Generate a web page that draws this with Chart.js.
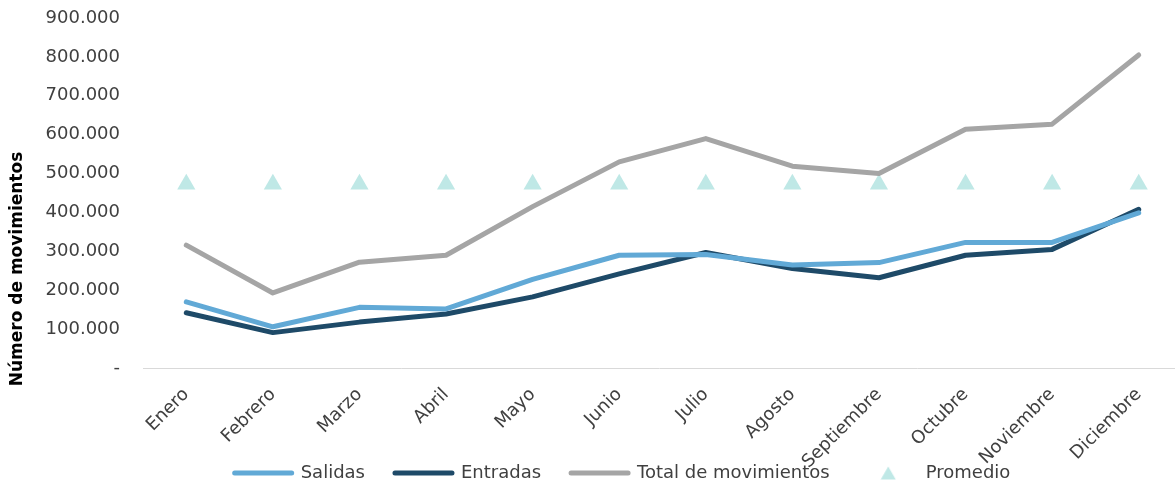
<!DOCTYPE html>
<html>
<head>
<meta charset="utf-8">
<script src="https://cdn.jsdelivr.net/npm/chart.js@4.4.1/dist/chart.umd.min.js"></script>
<style>
  html, body { margin: 0; padding: 0; background: #ffffff; }
  #wrap { width: 1175px; height: 491px; position: relative; }
</style>
</head>
<body>
<div id="wrap"><canvas id="c" width="1175" height="491"></canvas></div>
<script>
const months = ['Enero','Febrero','Marzo','Abril','Mayo','Junio','Julio','Agosto','Septiembre','Octubre','Noviembre','Diciembre'];
const salidas = [170000,106000,156000,152000,228000,290000,292000,265000,271000,323000,323000,399000];
const entradas = [142000,91000,118000,139000,183000,242000,297000,256000,232000,290000,305000,408000];
const totalMov = [316000,193000,272000,290000,415000,530000,590000,519000,500000,614000,627000,805000];
const promedio = [472600,472600,472600,472600,472600,472600,472600,472600,472600,472600,472600,472600];
const yTicks = [0,100000,200000,300000,400000,500000,600000,700000,800000,900000];

const C_SAL = '#61A9D6';
const C_ENT = '#1E4A68';
const C_TOT = '#A5A5A5';
const C_PRO = '#BFE8E6';
const TXT = '#404040';
const FONT = 'DejaVu Sans';

function fmt(v) {
  if (v === 0) return '-';
  return String(v).replace(/\B(?=(\d{3})+(?!\d))/g, '.');
}

// legend triangle marker
const tri = document.createElement('canvas');
tri.width = 16; tri.height = 14;
(function(){
  const g = tri.getContext('2d');
  g.fillStyle = C_PRO;
  g.beginPath();
  g.moveTo(8, 0.5); g.lineTo(15.5, 13.5); g.lineTo(0.5, 13.5); g.closePath(); g.fill();
})();

const customTitle = {
  id: 'customTitle',
  afterDraw(chart) {
    const ctx = chart.ctx;
    ctx.save();
    ctx.translate(18, 269);
    ctx.rotate(-Math.PI / 2);
    ctx.font = 'bold 17px "' + FONT + '"';
    ctx.fillStyle = '#000000';
    ctx.textAlign = 'center';
    ctx.textBaseline = 'middle';
    ctx.fillText('Número de movimientos', 0, 0);
    ctx.restore();
  }
};

const layoutTweak = {
  id: 'layoutTweak',
  afterLayout(chart) {
    const lg = chart.legend;
    if (lg) {
      const dx = 35, dy = 1;
      lg.left += dx; lg.right += dx;
      lg.top += dy; lg.bottom += dy;
    }
    const xs = chart.scales.x;
    if (xs) {
      xs.bottom = chart.height;
      // the plot area of the original runs slightly past the right edge
      xs.right = chart.width + 7;
      xs.width = xs.right - xs.left;
      xs.configure();
    }
  }
};

Chart.defaults.font.family = FONT;
Chart.defaults.font.size = 18;
Chart.defaults.color = TXT;

new Chart(document.getElementById('c'), {
  type: 'line',
  data: {
    labels: months,
    datasets: [
      { label: 'Salidas', data: salidas, borderColor: C_SAL, backgroundColor: C_SAL, borderWidth: 5, pointRadius: 0, borderCapStyle: 'round', borderJoinStyle: 'round', tension: 0 },
      { label: 'Entradas', data: entradas, borderColor: C_ENT, backgroundColor: C_ENT, borderWidth: 5, pointRadius: 0, borderCapStyle: 'round', borderJoinStyle: 'round', tension: 0 },
      { label: 'Total de movimientos', data: totalMov, borderColor: C_TOT, backgroundColor: C_TOT, borderWidth: 5, pointRadius: 0, borderCapStyle: 'round', borderJoinStyle: 'round', tension: 0 },
      { label: 'Promedio', data: promedio, showLine: false, pointStyle: 'triangle', pointRadius: 10.5, pointBorderWidth: 0, pointBackgroundColor: C_PRO, pointBorderColor: C_PRO, backgroundColor: C_PRO, borderColor: C_PRO }
    ]
  },
  options: {
    responsive: false,
    animation: false,
    events: [],
    layout: { autoPadding: false, padding: { top: 18, right: 0, left: 0, bottom: 0 } },
    plugins: {
      tooltip: { enabled: false },
      legend: {
        position: 'bottom',
        labels: {
          usePointStyle: true,
          pointStyleWidth: 57,
          boxHeight: 18,
          padding: 30,
          color: TXT,
          font: { size: 18 },
          generateLabels(chart) {
            const items = Chart.defaults.plugins.legend.labels.generateLabels(chart);
            items.forEach(it => {
              if (it.datasetIndex === 3) {
                it.pointStyle = tri;
              } else {
                it.pointStyle = 'line';
                it.lineWidth = 5;
                it.lineCap = 'round';
              }
            });
            return items;
          }
        }
      }
    },
    scales: {
      x: {
        offset: true,
        grid: { display: false, drawTicks: false },
        border: { display: true, color: '#D9D9D9', width: 1 },
        ticks: { autoSkip: false, minRotation: 45, maxRotation: 45, padding: 16, color: TXT, font: { size: 18 } },
        afterFit(scale) {
          const lh = scale.chart.legend ? scale.chart.legend.height : 0;
          scale.height = Math.max(10, 491 - 368 - lh);
          scale.paddingLeft = 0;
          scale.paddingRight = 0;
          scale.paddingTop = 0;
          scale.paddingBottom = 0;
        }
      },
      y: {
        min: 0, max: 900000,
        afterBuildTicks(scale) { scale.ticks = yTicks.map(v => ({ value: v })); },
        grid: { display: false, drawTicks: false },
        border: { display: false },
        ticks: { padding: 23, color: TXT, font: { size: 18 }, callback: (v) => fmt(v) },
        afterFit(scale) {
          scale.width = 143;
          scale.paddingTop = 0;
          scale.paddingBottom = 0;
          scale.paddingLeft = 0;
          scale.paddingRight = 0;
        }
      }
    }
  },
  plugins: [customTitle, layoutTweak]
});
</script>
</body>
</html>
